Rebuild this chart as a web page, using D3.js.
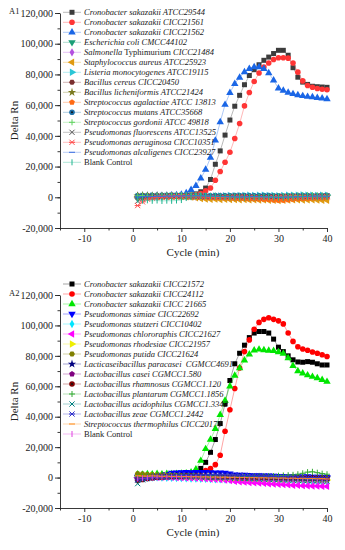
<!DOCTYPE html>
<html>
<head>
<meta charset="utf-8">
<title>Delta Rn amplification curves</title>
<script src="https://cdnjs.cloudflare.com/ajax/libs/d3/7.8.5/d3.min.js"></script>
<style>
  body{margin:0;background:#fff;}
  svg{display:block;}
  svg text{font-family:"Liberation Serif","Times New Roman",serif;}
</style>
</head>
<body>
<svg id="chart" width="345" height="550"></svg>
<script>
// x = cycle 1..40, all series values are Delta Rn in thousands
var cycles = d3.range(1, 41);
var xTicks = [-10, 0, 10, 20, 30, 40];
var yTicks = [-20000, 0, 20000, 40000, 60000, 80000, 100000, 120000];

// ---- panel A1 ----
var a1Names = ["Cronobacter sakazakii ATCC29544", "Cronobacter sakazakii CICC21561", "Cronobacter sakazakii CICC21562",
  "Escherichia coli CMCC44102", "Salmonella Typhimurium CICC21484", "Staphylococcus aureus ATCC25923",
  "Listeria monocytogenes ATCC19115", "Bacillus cereus CICC20450", "Bacillus licheniformis ATCC21424",
  "Streptococcus agalactiae ATCC 13813", "Streptococcus mutans ATCC35668", "Streptococcus gordonii ATCC 49818",
  "Pseudomonas fluorescens ATCC13525", "Pseudomonas aeruginosa CICC10351", "Pseudomonas alcaligenes CICC23927",
  "Blank Control"];
var a1Colors = ["#3c3c3c", "#ff3535", "#1a66e6", "#1a9e77", "#b450e0", "#e09a10", "#2ac6d6", "#7b2f2f",
  "#7a7a1f", "#ff6a13", "#1c6fa8", "#5fd35f", "#555555", "#ff4d4d", "#3d6fe0", "#1fb58f"];
var a1Markers = ["square", "circle", "up", "down", "diamond", "left", "right", "hexagon",
  "star", "pentagon", "dotcircle", "plus", "x", "asterisk", "dash", "bar"];

var a1_29544 = [0.6,0.9,0.7,0.8,0.6,0.7,0.8,0.9,1.0,1.1,1.3,1.6,2.2,3.6,6.0,11.6,21.5,30.2,40.5,50.3,
  59.3,66.4,73.3,79.3,83.1,86.3,89.2,91.3,93.6,95.7,95.7,92.5,84.4,78.2,75.0,73.5,72.3,72.0,71.8,71.6];
var a1_21561 = [0.3,0.5,0.6,0.7,0.6,0.8,0.9,1.0,1.0,1.1,1.2,1.3,1.6,2.5,4.2,6.0,11.1,16.8,22.8,29.3,
  38.3,48.0,59.5,68.2,75.4,80.9,84.8,87.4,89.7,90.9,90.9,90.6,87.4,81.5,75.8,72.8,71.7,70.8,70.3,70.0];
var a1_21562 = [0.8,1.0,0.9,1.0,1.1,1.0,1.2,1.3,1.5,1.8,2.8,4.8,7.5,12.3,18.1,25.8,37.0,49.0,60.3,68.0,
  73.9,78.0,81.5,83.7,84.8,84.8,83.7,80.9,76.1,71.0,69.5,68.2,67.3,66.5,66.0,65.5,65.2,64.8,64.4,64.0];
var a1_ecoli = [-0.5,0.2,0.5,0.3,0.6,0.4,0.7,0.5,0.8,0.6,0.9,0.7,0.8,0.6,0.5,0.4,0.3,0.2,0.1,0.0,
  -0.2,-0.3,-0.4,-0.3,-0.5,-0.4,-0.6,-0.5,-0.7,-0.6,-0.5,-0.4,-0.3,-0.2,0.0,0.2,0.3,0.4,0.5,0.6];
var a1_salmonella = [0.3,0.6,0.4,0.8,0.5,0.9,0.6,1.0,0.7,0.9,0.6,0.8,0.5,0.7,0.4,0.6,0.3,0.5,0.2,0.4,
  0.1,0.3,0.0,0.2,-0.1,0.1,-0.2,0.0,-0.3,-0.1,-0.4,-0.2,-0.1,0.0,0.2,0.4,0.3,0.5,0.4,0.6];
var a1_staph = [0.2,0.4,0.3,0.5,0.4,0.6,0.5,0.7,0.6,0.5,0.3,0.1,-0.3,-0.8,-1.1,-1.3,-1.2,-1.4,-1.3,-1.5,
  -1.4,-1.6,-1.5,-1.7,-1.6,-1.8,-1.7,-1.9,-2.0,-2.1,-1.9,-1.8,-1.7,-1.6,-1.8,-1.7,-1.6,-1.8,-1.9,-2.0];
var a1_listeria = [0.5,0.7,0.6,0.8,0.7,0.9,0.8,1.0,0.9,1.0,0.8,0.9,0.7,0.8,0.6,0.7,0.8,0.9,1.0,1.1,
  1.0,1.2,1.1,1.3,1.2,1.4,1.3,1.2,1.1,1.0,1.2,1.3,1.4,1.3,1.5,1.4,1.3,1.2,1.3,1.4];
var a1_bcereus = [0.8,1.0,0.9,1.1,1.0,1.2,1.1,1.3,1.2,1.1,1.0,0.9,0.8,0.7,0.6,0.5,0.4,0.3,0.2,0.1,
  0.0,-0.1,-0.2,-0.1,0.0,0.1,0.2,0.1,0.0,-0.1,0.0,0.1,0.2,0.3,0.4,0.3,0.5,0.4,0.6,0.5];
var a1_blich = [1.0,1.2,1.1,0.9,1.0,0.8,0.9,0.7,0.8,0.6,0.7,0.5,0.6,0.4,0.5,0.3,0.4,0.2,0.3,0.1,
  0.2,0.0,0.1,-0.1,0.0,-0.2,-0.1,-0.3,-0.2,-0.4,-0.3,-0.2,-0.1,0.0,0.1,0.2,0.3,0.2,0.4,0.3];
var a1_agalactiae = [0.4,0.3,0.5,0.4,0.6,0.5,0.7,0.6,0.8,0.7,0.9,0.8,0.6,0.5,0.3,0.2,0.0,-0.2,-0.4,-0.5,
  -0.6,-0.7,-0.8,-0.9,-1.0,-1.1,-1.3,-1.5,-1.8,-2.0,-1.9,-1.6,-1.3,-1.0,-0.8,-0.6,-0.5,-0.4,-0.3,-0.2];
var a1_mutans = [0.6,0.8,0.7,0.9,0.8,1.0,0.9,1.1,1.0,1.2,1.1,1.0,0.9,0.8,0.9,1.0,1.1,1.0,0.9,1.0,
  1.1,1.2,1.1,1.0,0.9,1.0,1.1,1.2,1.0,0.9,0.8,0.9,1.0,1.1,1.2,1.1,1.0,0.9,1.0,1.1];
var a1_gordonii = [0.9,1.1,1.0,1.2,1.1,1.3,1.2,1.4,1.3,1.5,1.4,1.6,1.5,1.3,1.1,0.9,0.7,0.5,0.3,0.4,
  0.5,0.6,0.4,0.3,0.2,0.3,0.4,0.5,0.6,0.7,0.8,0.9,1.0,1.1,1.2,1.3,1.4,1.2,1.1,1.0];
var a1_fluorescens = [-2.5,-1.0,0.0,0.3,0.5,0.4,0.6,0.5,0.7,0.6,0.8,0.7,0.6,0.5,0.4,0.3,0.2,0.3,0.4,0.5,
  0.6,0.5,0.4,0.3,0.2,0.1,0.2,0.3,0.4,0.5,0.6,0.7,0.6,0.5,0.4,0.5,0.6,0.7,0.8,0.9];
var a1_aeruginosa = [-5.4,-3.0,-1.2,-0.5,0.0,0.2,0.3,0.4,0.5,0.6,0.5,0.4,0.3,0.2,0.1,0.0,-0.1,-0.2,-0.1,0.0,
  0.1,0.2,0.1,0.0,-0.1,-0.2,-0.3,-0.2,-0.1,0.0,0.1,0.2,0.3,0.2,0.1,0.0,0.1,0.2,0.3,0.4];
var a1_alcaligenes = [0.2,0.4,0.6,0.5,0.7,0.6,0.8,0.7,0.9,0.8,1.0,0.9,1.1,1.0,0.9,0.8,0.7,0.6,0.5,0.4,
  0.3,0.2,0.3,0.4,0.5,0.4,0.3,0.2,0.1,0.0,0.1,0.2,0.3,0.4,0.5,0.6,0.7,0.8,0.7,0.6];
var a1_blank = [-1.5,-2.2,-2.0,-2.3,-2.1,-2.4,-2.2,-2.3,-2.1,-1.8,-0.5,0.3,0.8,1.0,0.9,0.7,0.5,0.3,0.1,0.0,
  -0.1,-0.2,-0.3,-0.2,-0.1,0.0,0.1,0.0,-0.1,-0.2,-0.3,-0.2,-0.1,0.0,0.1,0.2,0.1,0.0,0.1,0.2];

// ---- panel A2 ----
var a2Names = ["Cronobacter sakazakii CICC21572", "Cronobacter sakazakii CICC24112", "Cronobacter sakazakii CICC 21665",
  "Pseudomonas simiae CICC22692", "Pseudomonas stutzeri CICC10402", "Pseudomonas chlororaphis CICC21627",
  "Pseudomonas rhodesiae CICC21957", "Pseudomonas putida CICC21624", "Lacticaseibacillus paracasei  CGMCC4691",
  "Lactobacillus casei CGMCC1.580", "Lactobacillus rhamnosus CGMCC1.120", "Lactobacillus plantarum CGMCC1.1856",
  "Lactobacillus acidophilus CGMCC1.3342", "Lactobacillus zeae CGMCC1.2442", "Streptococcus thermophilus CICC20174",
  "Blank Control"];
var a2Colors = ["#000000", "#ff0000", "#00e600", "#0000ff", "#00e5ff", "#ff00ff", "#eeee00", "#808000",
  "#000080", "#800080", "#800000", "#33aa33", "#008080", "#3333cc", "#ff8c1a", "#e040e0"];
var a2Markers = a1Markers;

var a2_21572 = [0.2,0.4,0.3,0.5,0.4,0.6,0.5,0.7,0.6,0.8,0.9,1.2,2.0,6.0,10.0,16.6,25.0,35.5,48.5,63.8,
  74.8,81.7,87.0,92.0,95.0,96.0,96.0,95.0,91.0,85.7,82.8,80.0,77.4,76.0,75.8,76.2,75.8,74.8,74.0,74.0];
var a2_24112 = [-1.0,-0.5,-0.3,0.0,0.2,0.1,0.3,0.2,0.4,0.3,0.5,0.6,0.8,1.5,4.6,6.0,8.5,14.7,30.4,44.6,
  58.5,72.0,82.8,90.5,97.5,102.0,104.0,105.0,104.0,103.0,101.0,95.0,89.5,86.0,84.5,83.7,82.5,81.7,80.7,79.6];
var a2_21665 = [2.2,2.0,2.3,2.1,2.4,2.2,2.5,2.3,2.4,2.6,2.8,3.5,5.5,11.1,18.8,25.0,32.0,41.3,50.6,60.0,
  67.0,72.0,77.0,81.0,83.6,84.2,83.8,83.5,83.3,82.5,81.5,78.5,73.5,70.0,68.5,67.3,66.3,65.4,64.2,63.0];
var a2_simiae = [0.5,0.8,1.0,1.2,1.5,1.8,2.2,3.0,3.3,3.4,3.5,3.4,3.5,3.6,3.5,3.4,3.3,3.2,3.0,2.6,
  2.0,1.8,1.7,1.6,1.5,1.4,1.3,1.2,1.1,1.0,0.9,0.8,0.9,0.7,0.6,0.7,0.5,0.4,0.5,0.3];
var a2_stutzeri = [-0.5,-0.3,-0.2,0.0,0.1,0.0,-0.1,-0.2,-0.3,-0.4,-0.5,-0.6,-0.7,-0.8,-0.9,-1.0,-1.1,-1.2,-1.3,-1.4,
  -1.5,-1.6,-1.7,-1.8,-1.9,-2.0,-2.1,-2.2,-2.2,-2.3,-2.4,-2.4,-2.5,-2.5,-2.6,-2.6,-2.7,-2.8,-2.8,-2.9];
var a2_chlororaphis = [0.0,0.2,0.1,0.3,0.2,0.4,0.3,0.2,0.1,0.0,-0.1,-0.2,-0.3,-0.5,-0.7,-0.9,-1.1,-1.3,-1.6,-2.0,
  -2.4,-2.7,-3.0,-3.2,-3.4,-3.6,-3.8,-4.0,-4.2,-4.4,-4.6,-4.8,-5.0,-5.1,-5.3,-5.4,-5.5,-5.6,-5.7,-5.8];
var a2_rhodesiae = [1.0,1.2,1.1,1.3,1.2,1.4,1.3,1.2,1.1,1.0,0.9,0.8,0.7,0.8,0.6,0.5,0.4,0.2,0.1,0.0,
  -0.1,-0.2,-0.1,-0.3,-0.4,-0.5,-0.4,-0.6,-0.7,-0.8,-0.9,-1.0,-0.9,-1.1,-1.2,-1.3,-1.2,-1.4,-1.5,-1.6];
var a2_putida = [2.5,2.3,2.0,1.8,1.6,1.5,1.4,1.3,1.2,1.1,1.2,0.9,0.8,0.9,0.6,0.5,0.6,0.3,0.2,0.3,
  0.0,-0.1,0.0,-0.3,-0.4,-0.3,-0.6,-0.7,-0.6,-0.9,-1.0,-0.9,-1.2,-1.1,-1.3,-1.4,-1.3,-1.5,-1.6,-1.5];
var a2_paracasei = [-1.0,-0.6,-0.2,0.2,0.5,0.7,0.9,1.0,1.1,1.0,0.9,1.0,1.1,1.2,1.1,1.0,0.9,0.8,0.7,0.6,
  0.5,0.6,0.5,0.4,0.3,0.4,0.3,0.2,0.1,0.2,0.1,0.0,-0.1,0.0,-0.1,-0.2,-0.1,-0.2,-0.3,-0.2];
var a2_casei = [-0.5,-0.2,0.1,0.3,0.5,0.6,0.8,0.9,0.8,0.7,0.8,0.9,1.0,0.9,0.8,0.7,0.6,0.5,0.4,0.3,
  0.2,0.1,0.0,-0.1,-0.2,-0.3,-0.2,-0.1,-0.2,-0.3,-0.4,-0.5,-0.4,-0.3,-0.4,-0.5,-0.6,-0.5,-0.4,-0.5];
var a2_rhamnosus = [-2.0,-1.2,-0.6,-0.2,0.2,0.4,0.6,0.8,0.9,1.0,1.1,1.0,0.9,0.8,0.7,0.6,0.5,0.4,0.3,0.2,
  0.1,0.0,-0.1,0.0,-0.1,-0.2,-0.1,-0.2,-0.3,-0.2,-0.3,-0.4,-0.3,-0.2,-0.3,-0.4,-0.5,-0.4,-0.3,-0.4];
var a2_plantarum = [0.5,0.7,0.9,1.0,1.2,1.1,1.3,1.2,1.0,0.9,0.8,0.7,0.6,0.5,0.4,0.3,0.4,0.5,0.4,0.3,
  0.2,0.3,0.4,0.5,0.6,0.7,0.8,0.9,1.0,1.2,1.4,1.6,1.8,2.2,2.8,3.6,3.8,3.2,2.6,2.2];
var a2_acidophilus = [-4.0,-1.5,-0.5,0.0,0.3,0.5,0.4,0.6,0.5,0.7,0.6,0.5,0.4,0.3,0.2,0.1,0.0,-0.1,-0.2,-0.3,
  -0.4,-0.5,-0.6,-0.7,-0.8,-0.9,-1.0,-1.1,-1.2,-1.3,-1.4,-1.5,-1.6,-1.7,-1.8,-1.9,-2.0,-2.1,-2.2,-2.3];
var a2_zeae = [-1.5,-0.8,-0.3,0.1,0.4,0.6,0.8,1.0,1.2,1.4,1.5,1.6,1.7,1.8,1.9,2.0,2.0,1.9,1.8,1.7,
  1.6,1.5,1.4,1.3,1.2,1.1,1.0,0.9,0.8,0.7,0.6,0.5,0.4,0.3,0.2,0.1,0.0,-0.1,-0.2,-0.3];
var a2_thermophilus = [1.2,1.0,0.9,1.1,1.0,0.8,0.9,0.7,0.8,0.6,0.7,0.5,0.6,0.4,0.5,0.3,0.4,0.2,0.3,0.1,
  0.2,0.0,0.1,-0.1,0.0,-0.2,-0.1,-0.3,-0.2,-0.4,-0.3,-0.5,-0.4,-0.6,-0.5,-0.7,-0.6,-0.8,-0.7,-0.9];
var a2_blank = [-0.8,-0.5,-0.3,-0.1,0.0,0.1,0.2,0.1,0.0,-0.1,-0.2,-0.3,-0.4,-0.5,-0.6,-0.7,-0.8,-0.9,-1.0,-1.1,
  -1.2,-1.3,-1.4,-1.5,-1.6,-1.7,-1.8,-1.9,-2.0,-2.1,-2.2,-2.3,-2.4,-2.5,-2.6,-2.7,-2.8,-2.9,-3.0,-3.1];

var a1Values = [a1_29544, a1_21561, a1_21562, a1_ecoli, a1_salmonella, a1_staph, a1_listeria, a1_bcereus,
  a1_blich, a1_agalactiae, a1_mutans, a1_gordonii, a1_fluorescens, a1_aeruginosa, a1_alcaligenes, a1_blank];
var a2Values = [a2_21572, a2_24112, a2_21665, a2_simiae, a2_stutzeri, a2_chlororaphis, a2_rhodesiae, a2_putida,
  a2_paracasei, a2_casei, a2_rhamnosus, a2_plantarum, a2_acidophilus, a2_zeae, a2_thermophilus, a2_blank];

var FONT = "Liberation Serif, Times New Roman, serif";
var svg = d3.select("#chart");
svg.append("rect").attr("width", 345).attr("height", 550).attr("fill", "#fff");

// polygon symbol types for the markers d3 does not have
function polygon(n, rot) {
  return {draw: function(ctx, size) {
    var r = Math.sqrt(size / (n * 0.5 * Math.sin(2 * Math.PI / n)));
    for (var i = 0; i < n; i++) {
      var a = rot + i * 2 * Math.PI / n;
      if (i == 0) ctx.moveTo(r * Math.cos(a), r * Math.sin(a));
      else ctx.lineTo(r * Math.cos(a), r * Math.sin(a));
    }
    ctx.closePath();
  }};
}
var hexagon = polygon(6, 0), pentagon = polygon(5, -Math.PI / 2);

function marker(g, type, color, x, y) {
  var t = "translate(" + x + "," + y + ")";
  var sym = d3.symbol();
  if (type == "square") {
    g.append("rect").attr("x", x - 2.5).attr("y", y - 2.5).attr("width", 5).attr("height", 5).attr("fill", color);
  } else if (type == "circle" || type == "dotcircle") {
    g.append("circle").attr("cx", x).attr("cy", y).attr("r", 2.8).attr("fill", color);
    if (type == "dotcircle") g.append("circle").attr("cx", x).attr("cy", y).attr("r", 1).attr("fill", "#111");
  } else if (type == "up" || type == "down" || type == "left" || type == "right") {
    var rot = {up: 0, down: 180, left: -90, right: 90}[type];
    g.append("path").attr("d", sym.type(d3.symbolTriangle).size(24)())
      .attr("transform", t + " rotate(" + rot + ")").attr("fill", color);
  } else if (type == "diamond") {
    g.append("path").attr("d", sym.type(d3.symbolDiamond).size(20)()).attr("transform", t).attr("fill", color);
  } else if (type == "star") {
    g.append("path").attr("d", sym.type(d3.symbolStar).size(22)()).attr("transform", t).attr("fill", color);
  } else if (type == "hexagon") {
    g.append("path").attr("d", sym.type(hexagon).size(22)()).attr("transform", t).attr("fill", color);
  } else if (type == "pentagon") {
    g.append("path").attr("d", sym.type(pentagon).size(22)()).attr("transform", t).attr("fill", color);
  } else {
    var segs = {plus: [[-3,0,3,0],[0,-3,0,3]], x: [[-2.6,-2.6,2.6,2.6],[-2.6,2.6,2.6,-2.6]],
      asterisk: [[-2.6,-2.6,2.6,2.6],[-2.6,2.6,2.6,-2.6],[-3,0,3,0]], dash: [[-3,0,3,0]], bar: [[0,-3,0,3]]}[type];
    segs.forEach(function(s) {
      g.append("line").attr("x1", x + s[0]).attr("y1", y + s[1]).attr("x2", x + s[2]).attr("y2", y + s[3])
        .attr("stroke", color).attr("stroke-width", 1);
    });
  }
}

function legendText(el, name) {
  var parts;
  if (name == "Blank Control") parts = [[name, false]];
  else if (name.indexOf("Typhimurium") >= 0) parts = [["Salmonella", true], [" Typhimurium ", false], ["CICC21484", true]];
  else parts = [[name, true]];
  parts.forEach(function(p) {
    el.append("tspan").attr("font-style", p[1] ? "italic" : "normal").attr("xml:space", "preserve").text(p[0]);
  });
}

var fmt = function(d) { return d3.format(",")(d).replace("\u2212", "-"); };

function panel(label, top, bottom, legendTop, names, colors, markers, values) {
  var x = d3.scaleLinear().domain([-15, 40]).range([60, 327]);
  var y = d3.scaleLinear().domain([-20000, 120000]).range([bottom, top]);
  var g = svg.append("g").attr("font-family", FONT);

  // axes with minor ticks
  var yMinor = d3.range(-20000, 120001, 10000);
  g.append("g").attr("transform", "translate(60,0)")
    .call(d3.axisLeft(y).tickValues(yMinor).tickSize(2.5).tickFormat(""))
    .call(function(a) { a.select(".domain").remove(); });
  var ya = g.append("g").attr("transform", "translate(60,0)")
    .call(d3.axisLeft(y).tickValues(yTicks).tickSize(5).tickSizeOuter(0).tickPadding(2).tickFormat(fmt));
  g.append("g").attr("transform", "translate(0," + bottom + ")")
    .call(d3.axisBottom(x).tickValues([-15, -5, 5, 15, 25, 35]).tickSize(2.5).tickFormat(""))
    .call(function(a) { a.select(".domain").remove(); });
  var xa = g.append("g").attr("transform", "translate(0," + bottom + ")")
    .call(d3.axisBottom(x).tickValues(xTicks).tickSize(4).tickSizeOuter(0).tickPadding(3).tickFormat(fmt));
  g.selectAll(".tick line, .domain").attr("stroke", "#222").attr("stroke-width", 0.9);
  g.selectAll("g").attr("font-family", FONT);
  [ya, xa].forEach(function(a) {
    a.selectAll("text").attr("font-size", 10).attr("fill", "#222");
  });

  g.append("text").attr("transform", "translate(18," + ((top + bottom) / 2) + ") rotate(-90)")
    .attr("text-anchor", "middle").attr("font-size", 11).attr("fill", "#222").text("Delta Rn");
  g.append("text").attr("x", 193).attr("y", bottom + 28).attr("text-anchor", "middle")
    .attr("font-size", 11).attr("fill", "#222").text("Cycle (min)");
  g.append("text").attr("x", 9).attr("y", top + 1).attr("font-size", 8.5).attr("fill", "#222").text(label);

  // series
  var line = d3.line().x(function(d, i) { return x(cycles[i]); }).y(function(d) { return y(d * 1000); });
  values.forEach(function(vals, k) {
    var sg = g.append("g");
    sg.append("path").attr("d", line(vals)).attr("fill", "none").attr("stroke", colors[k])
      .attr("stroke-opacity", 0.45).attr("stroke-width", 0.8);
    vals.forEach(function(v, i) { marker(sg, markers[k], colors[k], x(cycles[i]), y(v * 1000)); });
  });

  // legend
  names.forEach(function(n, k) {
    var ly = legendTop + k * 10;
    var lg = g.append("g");
    lg.append("line").attr("x1", 63).attr("x2", 81).attr("y1", ly).attr("y2", ly)
      .attr("stroke", colors[k]).attr("stroke-opacity", 0.45).attr("stroke-width", 0.8);
    marker(lg, markers[k], colors[k], 72, ly);
    var t = lg.append("text").attr("x", 84).attr("y", ly + 3).attr("font-size", 8.5).attr("fill", "#222");
    legendText(t, n);
  });
}

panel("A1", 13, 228, 12.3, a1Names, a1Colors, a1Markers, a1Values);
panel("A2", 295, 508, 284, a2Names, a2Colors, a2Markers, a2Values);
</script>
</body>
</html>
